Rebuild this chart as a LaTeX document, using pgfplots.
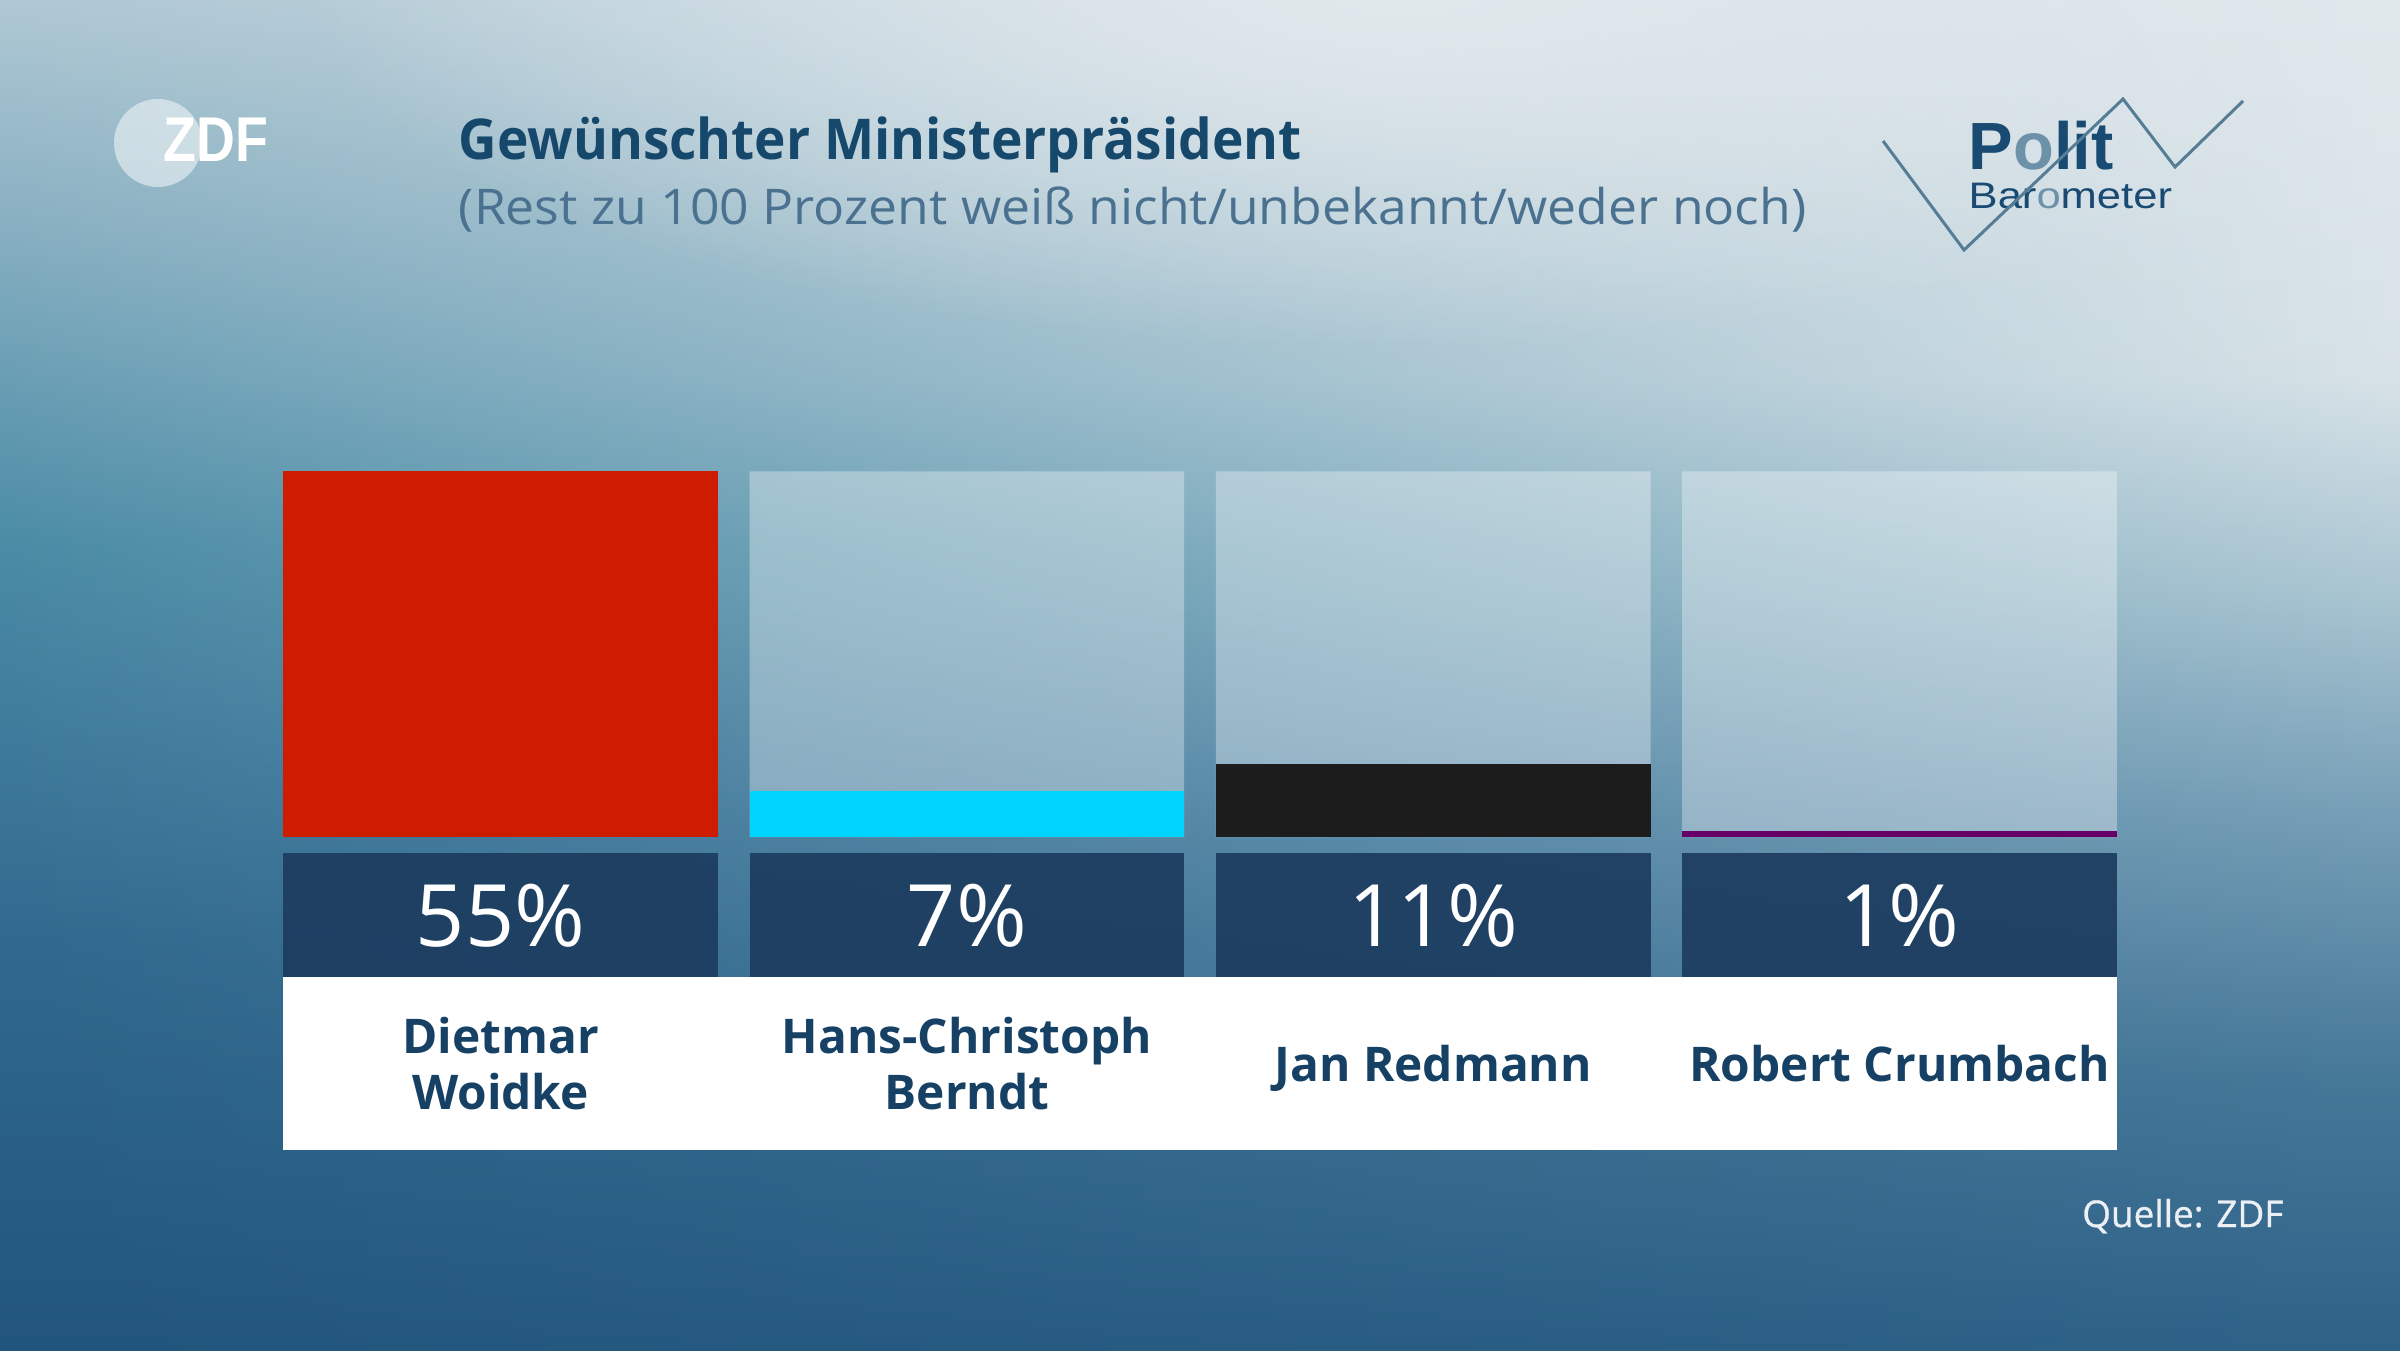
\documentclass[border=0pt]{standalone}
\usepackage{fontspec}
\setmainfont{Open Sans}
\newfontfamily\logofont{Liberation Sans}
\newfontfamily\medfont[FakeBold=0.8]{Open Sans}
\usepackage{graphicx}
\usepackage{pgfplots}
\pgfplotsset{compat=1.18}
\usetikzlibrary{fadings}

\definecolor{R0}{RGB}{226,233,237}
\definecolor{R1}{RGB}{216,227,232}
\definecolor{R2}{RGB}{170,198,210}
\definecolor{R3}{RGB}{120,160,184}
\definecolor{R4}{RGB}{70,120,152}
\definecolor{R5}{RGB}{46,98,136}
\definecolor{L0}{RGB}{175,200,212}
\definecolor{L1}{RGB}{140,178,195}
\definecolor{L2}{RGB}{100,155,178}
\definecolor{L3}{RGB}{75,140,165}
\definecolor{L4}{RGB}{62,122,155}
\definecolor{L5}{RGB}{48,105,142}
\definecolor{L6}{RGB}{33,85,125}

\definecolor{titlecol}{RGB}{22,72,108}
\definecolor{subcol}{RGB}{74,114,144}
\definecolor{namecol}{RGB}{22,65,100}
\definecolor{boxcol}{RGB}{28,60,95}
\definecolor{zred}{RGB}{206,28,0}
\definecolor{zcyan}{RGB}{0,212,255}
\definecolor{zblack}{RGB}{28,28,28}
\definecolor{zpurple}{RGB}{102,0,102}
\definecolor{logodark}{RGB}{24,74,114}
\definecolor{logolight}{RGB}{110,145,170}
\definecolor{zigcol}{RGB}{85,125,150}
\definecolor{quelle}{RGB}{236,240,245}

\pgfdeclareverticalshading{bgR}{100bp}{color(0bp)=(R5); color(25bp)=(R5); color(35bp)=(R4); color(45bp)=(R3); color(53bp)=(R2); color(61bp)=(R1); color(75bp)=(R0); color(100bp)=(R0)}
\pgfdeclareverticalshading{bgL}{100bp}{color(0bp)=(L6); color(25bp)=(L6); color(40bp)=(L5); color(47.5bp)=(L4); color(55bp)=(L3); color(60bp)=(L2); color(67.5bp)=(L1); color(75bp)=(L0); color(100bp)=(L0)}
\tikzfading[name=hfade, left color=transparent!0, middle color=transparent!55, right color=transparent!100]
\tikzfading[name=glow, inner color=transparent!0, outer color=transparent!100]

\begin{document}
\begin{tikzpicture}
\useasboundingbox (0,0) rectangle (24,13.5);
\shade[shading=bgR] (0,0) rectangle (24,13.5);
\shade[shading=bgL, path fading=hfade] (0,0) rectangle (24,13.5);
\begin{scope}
\clip (0,0) rectangle (24,13.5);
\fill[R0, path fading=glow] (14,13.6) ellipse (11 and 3.6);
\end{scope}

% ZDF logo
\fill[white, opacity=0.5] (1.58,12.07) circle (0.44);
\node[anchor=base west, inner sep=0pt, text=white, font=\logofont\bfseries\fontsize{18}{20}\selectfont] at (1.63,11.88) {\scalebox{0.85}[1]{ZDF}};

% title
\node[anchor=base west, inner sep=0pt, text=titlecol, font=\bfseries\fontsize{16}{19}\selectfont] at (4.58,11.90) {\scalebox{0.946}[1]{Gewünschter Ministerpräsident}};
\node[anchor=base west, inner sep=0pt, text=subcol, font=\fontsize{14}{16}\selectfont] at (4.58,11.25) {\scalebox{1.05}[1]{(Rest zu 100 Prozent weiß nicht/unbekannt/weder noch)}};

% Politbarometer logo
\node[anchor=base west, inner sep=0pt, text=logodark, font=\logofont\bfseries\fontsize{19}{21}\selectfont] at (19.68,11.80) {P\textcolor{logolight}{o}lit};
\node[anchor=base west, inner sep=0pt, text=logodark, font=\logofont\fontsize{10.5}{12}\selectfont] at (19.68,11.41) {\scalebox{1.18}[1]{Bar\textcolor{logolight}{o}meter}};
\draw[zigcol, line width=0.03cm, line join=miter] (18.83,12.09) -- (19.64,11.00) -- (21.23,12.51) -- (21.75,11.83) -- (22.43,12.49);

% source
\node[anchor=base east, inner sep=0pt, text=quelle, font=\medfont\fontsize{10.5}{12}\selectfont] at (22.84,1.23) {Quelle: ZDF};

% label panels
\fill[white] (2.832,2.005) rectangle (21.168,3.733);
\fill[boxcol, fill opacity=0.92] (2.832,3.733) rectangle (7.179,4.972);
\fill[boxcol, fill opacity=0.92] (7.495,3.733) rectangle (11.842,4.972);
\fill[boxcol, fill opacity=0.92] (12.158,3.733) rectangle (16.505,4.972);
\fill[boxcol, fill opacity=0.92] (16.821,3.733) rectangle (21.168,4.972);

\begin{axis}[
  at={(2.832cm,5.128cm)}, anchor=south west,
  scale only axis, width=18.336cm, height=3.658cm,
  xmin=-0.4661, xmax=3.4661, ymin=0, ymax=55,
  clip=false,
  axis line style={draw=none},
  major tick length=0pt,
  ytick=\empty,
  xtick={0,1,2,3},
  xticklabels={{Dietmar\\Woidke},{Hans-Christoph\\Berndt},{\raisebox{0pt}[\height][0pt]{Jan Redmann}},{Robert Crumbach}},
  xticklabel style={align=center, anchor=center, yshift=-2.26cm, font=\bfseries\fontsize{13.6}{16}\selectfont, text=namecol},
]
\addplot[ybar, bar width=0.9322, bar shift=0pt, draw=none, fill=white, fill opacity=0.33] coordinates {(1,55) (2,55) (3,55)};
\addplot[ybar, bar width=0.9322, bar shift=0pt, draw=none, fill=zred] coordinates {(0,55)};
\addplot[ybar, bar width=0.9322, bar shift=0pt, draw=none, fill=zcyan] coordinates {(1,7)};
\addplot[ybar, bar width=0.9322, bar shift=0pt, draw=none, fill=zblack] coordinates {(2,11)};
\addplot[ybar, bar width=0.9322, bar shift=0pt, draw=none, fill=zpurple] coordinates {(3,1)};

\addplot[draw=none, no markers, nodes near coords, point meta=explicit symbolic,
  every node near coord/.append style={anchor=base, inner sep=0pt, text=white, font=\fontsize{24.5}{28}\selectfont}]
  coordinates {(0,-16.38)[55\%] (1,-16.38)[7\%] (2,-16.38)[11\%] (3,-16.38)[1\%]};
\end{axis}
\end{tikzpicture}
\end{document}
